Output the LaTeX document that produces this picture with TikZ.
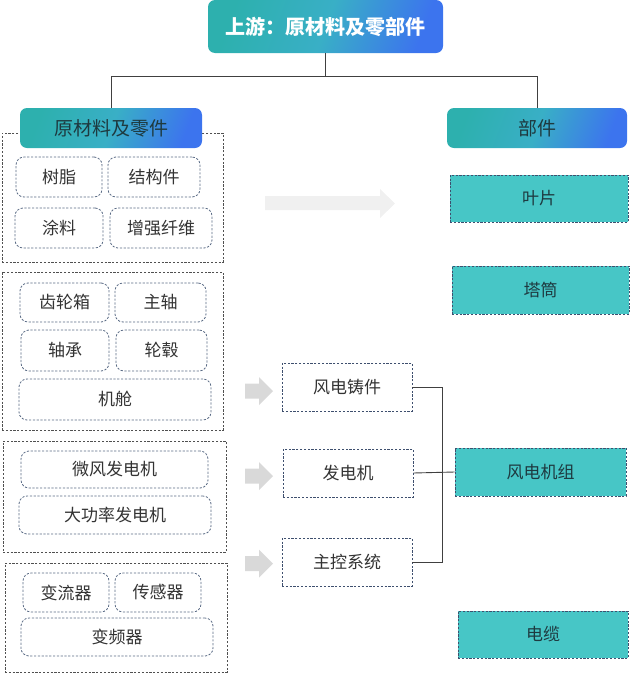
\documentclass[tikz,border=0pt]{standalone}
\usepackage{fontspec}
\newfontfamily\cjk{Noto Sans CJK SC}
\usetikzlibrary{calc}
\definecolor{tealbox}{HTML}{47C6C6}
\definecolor{gA}{HTML}{2DB0AE}
\definecolor{gB}{HTML}{39AFC6}
\definecolor{gC}{HTML}{3C74EE}
\definecolor{txt}{HTML}{333333}
\definecolor{dtxt}{HTML}{1E3A40}
\definecolor{inner}{HTML}{5A6B85}
\definecolor{outer}{HTML}{505050}
\definecolor{midbox}{HTML}{3E4F6E}
\definecolor{conn}{HTML}{404040}
\definecolor{bigarr}{HTML}{F0F0F0}
\definecolor{smarr}{HTML}{D9D9D9}
\tikzset{
  every node/.style={font=\cjk\fontsize{17}{19}\selectfont, text=txt, inner sep=0pt},
  grad/.style={rounded corners=7, left color=gA, right color=gC, middle color=gB, shading angle=70},
  grouping/.style={draw=outer, line width=0.8pt, dash pattern=on 2.2pt off 1.6pt},
  item/.style={draw=inner, line width=0.8pt, dash pattern=on 2.2pt off 1.6pt, rounded corners=8, fill=white},
  midnode/.style={draw=midbox, line width=0.8pt, dash pattern=on 2.2pt off 1.6pt, fill=white, minimum width=130, minimum height=48},
  partbox/.style={draw=midbox, line width=0.8pt, dash pattern=on 2.2pt off 1.6pt, fill=tealbox, text=dtxt, minimum width=176, minimum height=47},
  link/.style={draw=conn, line width=0.9pt}
}
\begin{document}
\begin{tikzpicture}[x=1pt,y=-1pt]
\useasboundingbox (0,0) rectangle (630,675);
% groups
\node[grouping, minimum width=221, minimum height=129] (g1) at (112.5,197.5) {};
\node[grouping, minimum width=221, minimum height=158] (g2) at (112.5,351) {};
\node[grouping, minimum width=223, minimum height=111] (g3) at (114.5,496.5) {};
\node[grouping, minimum width=222, minimum height=109] (g4) at (116,617.5) {};
% top title
\node[grad, minimum width=235, minimum height=53, text=white, font=\cjk\fontsize{20}{22}\selectfont\bfseries] (top) at (325.5,26.5) {上游：原材料及零部件};
\node[grad, minimum width=182, minimum height=40, text=dtxt, font=\cjk\fontsize{19}{21}\selectfont] (lh) at (111,128) {原材料及零件};
\node[grad, minimum width=180, minimum height=40, text=dtxt, font=\cjk\fontsize{19}{21}\selectfont] (rh) at (537,128) {部件};
\draw[link] (top.south) -- ++(0,23) coordinate (hub);
\draw[link] (hub) -| (lh.north);
\draw[link] (hub) -| (rh.north);
% group 1 items
\node[item, minimum width=86, minimum height=40] (shuzhi) at (59,177) {树脂};
\node[item, minimum width=92, minimum height=40] (jiegou) at (154,177) {结构件};
\node[item, minimum width=88, minimum height=40] (tuliao) at (59,228) {涂料};
\node[item, minimum width=102, minimum height=40] (zengqiang) at (161,228) {增强纤维};
% group 2 items
\node[item, minimum width=89, minimum height=39] (chilun) at (64.5,302.5) {齿轮箱};
\node[item, minimum width=91, minimum height=39] (zhuzhou) at (160.5,302.5) {主轴};
\node[item, minimum width=88, minimum height=41] (zhoucheng) at (65,350.5) {轴承};
\node[item, minimum width=91, minimum height=41] (lungu) at (161.5,350.5) {轮毂};
\node[item, minimum width=192, minimum height=41] (jicang) at (115,399.5) {机舱};
% group 3 items
\node[item, minimum width=187, minimum height=37] (weifeng) at (114.5,469.5) {微风发电机};
\node[item, minimum width=192, minimum height=38] (dagonglv) at (115,515) {大功率发电机};
% group 4 items
\node[item, minimum width=86, minimum height=39] (bianliu) at (66,592.5) {变流器};
\node[item, minimum width=86, minimum height=39] (chuangan) at (158,592.5) {传感器};
\node[item, minimum width=192, minimum height=38] (bianpin) at (117,637) {变频器};
% arrows
\fill[bigarr] (265,196) -- (380,196) -- (380,189) -- (395,203.5) -- (380,218) -- (380,210) -- (265,210) -- cycle;
\foreach \cy in {391,476,563.5}{
  \fill[smarr] (245,\cy-7.5) -- (259,\cy-7.5) -- (259,\cy-14) -- (273,\cy) -- (259,\cy+14) -- (259,\cy+7.5) -- (245,\cy+7.5) -- cycle;
}
% middle nodes
\node[midnode] (zhujian) at (347,387) {风电铸件};
\node[midnode] (fadian) at (348,473) {发电机};
\node[midnode] (zhukong) at (347,562) {主控系统};
% parts
\node[partbox, minimum width=178] (yepian) at (539,198.5) {叶片};
\node[partbox, minimum width=177, minimum height=48] (tatong) at (540.5,290) {塔筒};
\node[partbox, minimum width=171, minimum height=48] (jizu) at (540.5,472) {风电机组};
\node[partbox, minimum width=170] (dianlan) at (543,634.5) {电缆};
% connectors
\draw[link] (zhujian.east) -| ($(zhukong.east)+(30,0)$) -- (zhukong.east);
\draw[link] (fadian.east) -- (jizu.west);
\end{tikzpicture}
\end{document}
